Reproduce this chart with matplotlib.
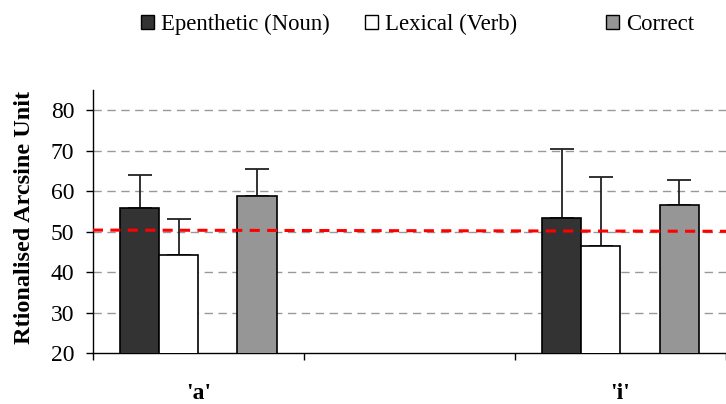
"""
bar chart of rationalised arcsine scores per vowel with chance line
"""

import numpy as np
import matplotlib.pyplot as plt
from matplotlib.patches import Rectangle
from matplotlib.ticker import FixedLocator

# data
categories = ["'a'", "", "'i'"]
series = ['Epenthetic (Noun)', 'Lexical (Verb)', '', 'Correct']
epenthetic = [55.9, np.nan, 53.5]
epenthetic_err = [8.2, np.nan, 16.9]
lexical = [44.3, np.nan, 46.5]
lexical_err = [8.8, np.nan, 17.0]
blank = [np.nan, np.nan, np.nan]
blank_err = [np.nan, np.nan, np.nan]
correct = [58.8, np.nan, 56.5]
correct_err = [6.6, np.nan, 6.2]
chance = [50.4, 50.1]

values = [epenthetic, lexical, blank, correct]
errors = [epenthetic_err, lexical_err, blank_err, correct_err]
colours = ['#333333', '#ffffff', 'none', '#969696']

plt.rcParams['font.family'] = ['Liberation Serif', 'DejaVu Serif']

fig = plt.figure(figsize=(7.26, 4.04), dpi=100)
ax = fig.add_axes([0.128, 0.126, 0.872, 0.651])

x = np.arange(len(categories))
width = 0.185
handles = []
for k, (vals, errs, col) in enumerate(zip(values, errors, colours)):
    pos = x + (k - 1.5) * width
    if col == 'none':
        handles.append(Rectangle((0, 0), 1, 1, facecolor='none',
                                 edgecolor='none'))
        continue
    ax.bar(pos, vals, width, bottom=0, color=col, edgecolor='black',
           linewidth=1.2, zorder=3)
    ax.errorbar(pos, vals, yerr=[np.zeros(len(errs)), errs], fmt='none',
                ecolor='#222222', elinewidth=1.3, capsize=8.5,
                capthick=1.3, zorder=2)
    handles.append(Rectangle((0, 0), 1, 1, facecolor=col,
                             edgecolor='black', linewidth=1.0))

# chance level
ax.plot([-0.5, 2.5], chance, color='red', linewidth=2.2,
        dashes=(3.3, 2.4), zorder=4)

ax.set_xlim(-0.5, 2.5)
ax.set_ylim(20, 85)
ax.set_yticks([20, 30, 40, 50, 60, 70, 80])
for g in [30, 40, 50, 60, 70, 80]:
    ax.axhline(g, color='#999999', linewidth=1.0, dashes=(6, 4), zorder=1)

ax.set_xticks(x)
ax.set_xticklabels(categories, fontsize=17, fontweight='bold')
ax.xaxis.set_minor_locator(FixedLocator([-0.5, 0.5, 1.5, 2.5]))
ax.tick_params(axis='x', which='major', length=0, pad=21.5)
ax.tick_params(axis='x', which='minor', length=5, width=1.0,
               direction='out')
ax.tick_params(axis='y', length=5, width=1.0, direction='out', pad=8.5,
               labelsize=17)

for side in ['top', 'right']:
    ax.spines[side].set_visible(False)
for side in ['left', 'bottom']:
    ax.spines[side].set_linewidth(1.0)
    ax.spines[side].set_color('black')

ax.set_ylabel('Rtionalised Arcsine Unit', fontsize=17.5, fontweight='bold')
ax.yaxis.set_label_coords(-0.091, 0.515)

fig.legend(handles, series, loc='center left',
           bbox_to_anchor=(0.179, 0.94), ncol=4, frameon=False,
           fontsize=16.4, handlelength=0.57, handleheight=0.6,
           handletextpad=0.3, columnspacing=1.53, borderpad=0)

fig.savefig('out.png', dpi=100)
